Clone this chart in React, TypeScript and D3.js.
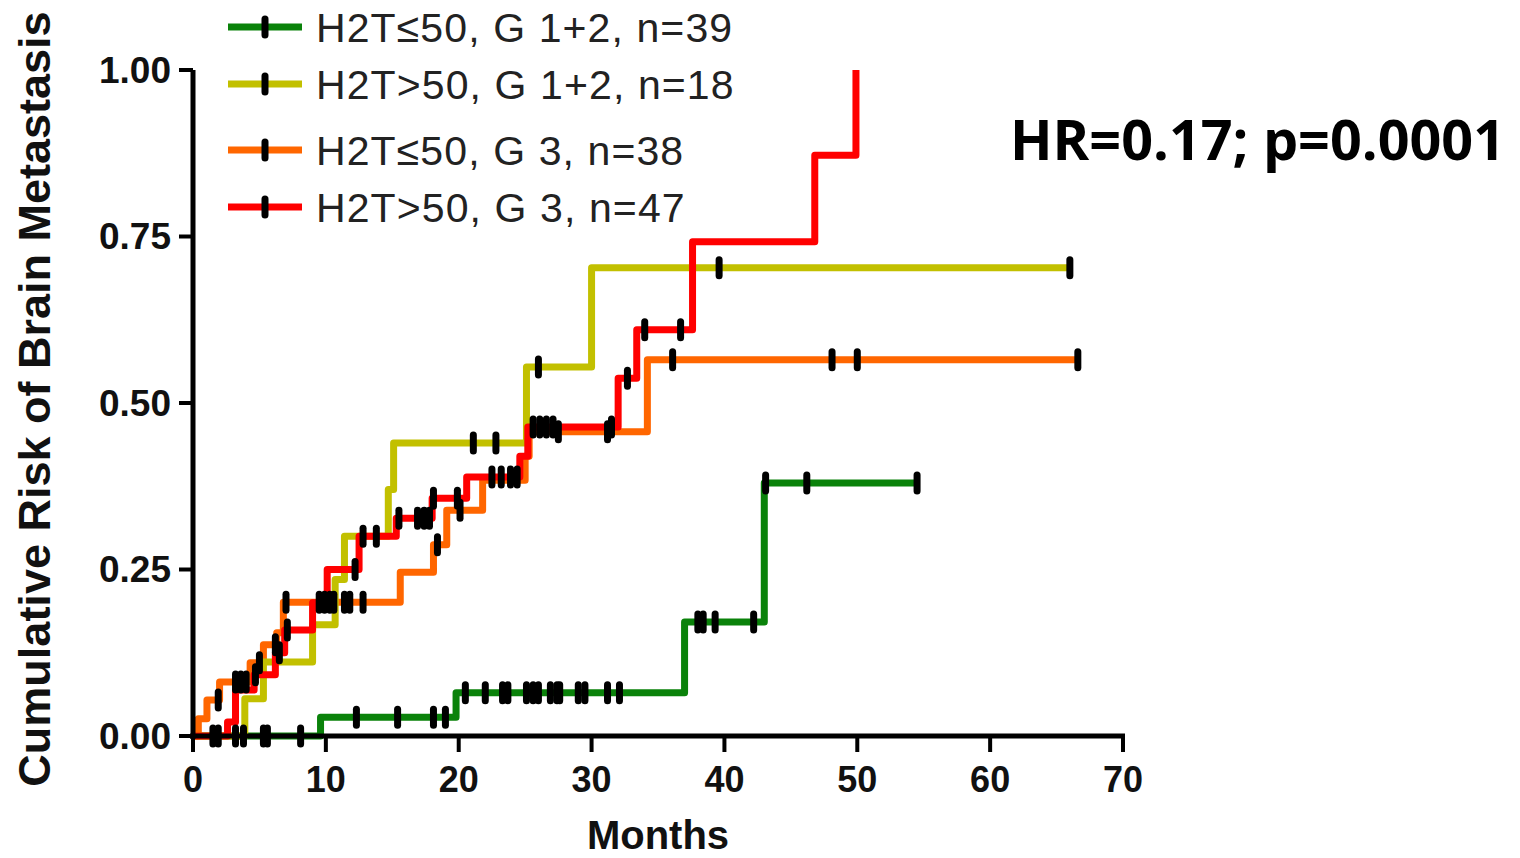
import React from "react";
import * as d3 from "d3";

const W = 1520;
const H = 858;

// Series: step change points [months, cumulative risk], end month, censor months
const greenSteps: [number, number][] = [[0, 0], [9.6, 0.028], [19.8, 0.065], [37.0, 0.171], [43.0, 0.38]];
const greenEnd = 54.5;
const greenCensors = [1.5, 1.9, 3.2, 3.8, 5.3, 5.6, 8.1, 12.3, 15.4, 18.1, 19.0, 20.5, 22.0, 23.3, 23.7, 25.1, 25.6, 26.0, 26.9, 27.4, 27.6, 29.0, 29.5, 31.2, 32.1, 38.0, 38.4, 39.3, 42.2, 43.1, 46.2, 54.5];

const yellowSteps: [number, number][] = [[0, 0], [3.9, 0.056], [5.3, 0.111], [9.0, 0.167], [10.7, 0.235], [11.4, 0.3], [14.7, 0.37], [15.1, 0.44], [25.1, 0.554], [30.0, 0.703]];
const yellowEnd = 66.0;
const yellowCensors = [13.8, 21.1, 22.8, 26.0, 39.6, 66.0];

const orangeSteps: [number, number][] = [[0, 0], [0.4, 0.026], [1.05, 0.054], [2.0, 0.081], [4.3, 0.11], [5.3, 0.137], [6.3, 0.155], [6.8, 0.201], [15.6, 0.246], [18.1, 0.287], [19.1, 0.339], [21.8, 0.384], [25.0, 0.42], [25.3, 0.457], [34.2, 0.565]];
const orangeEnd = 66.6;
const orangeCensors = [1.9, 3.2, 3.6, 4.0, 5.0, 6.2, 7.0, 9.5, 9.9, 10.3, 10.6, 11.4, 11.8, 12.8, 18.4, 20.1, 27.5, 31.2, 36.1, 48.1, 50.0, 66.6];

const redSteps: [number, number][] = [[0, 0], [2.6, 0.021], [3.2, 0.069], [4.6, 0.092], [6.2, 0.125], [6.9, 0.159], [9.0, 0.2], [10.1, 0.25], [12.5, 0.3], [15.3, 0.327], [18.0, 0.357], [20.6, 0.389], [24.6, 0.42], [25.2, 0.464], [32.0, 0.537], [33.4, 0.61], [37.6, 0.742], [46.8, 0.872], [49.9, 1.0]];
const redEnd = 49.9;
const redCensors = [4.7, 6.5, 7.1, 12.2, 12.8, 15.5, 16.9, 17.4, 17.8, 18.1, 19.9, 22.5, 23.2, 23.9, 24.4, 25.6, 26.1, 26.6, 27.1, 31.5, 32.7, 34.0, 36.7];

const legendLabels = ["H2T\u226450, G 1+2, n=39", "H2T>50, G 1+2, n=18", "H2T\u226450, G 3, n=38", "H2T>50, G 3, n=47"];
const colors = ["#0a820a", "#c2c000", "#ff6600", "#ff0000"];

const xTicks = [0, 10, 20, 30, 40, 50, 60, 70];
const yTicks = [0, 0.25, 0.5, 0.75, 1.0];

const series = [
  { steps: greenSteps, end: greenEnd, censors: greenCensors, color: colors[0] },
  { steps: orangeSteps, end: orangeEnd, censors: orangeCensors, color: colors[2] },
  { steps: yellowSteps, end: yellowEnd, censors: yellowCensors, color: colors[1] },
  { steps: redSteps, end: redEnd, censors: redCensors, color: colors[3] },
];

function valueAt(steps: [number, number][], t: number) {
  let v = 0;
  for (const [st, sv] of steps) if (st <= t) v = sv;
  return v;
}

export default function App() {
  const x = d3.scaleLinear().domain([0, 70]).range([193, 1123]);
  const y = d3.scaleLinear().domain([0, 1]).range([736, 70]);
  const line = d3
    .line<[number, number]>()
    .x((d) => x(d[0]))
    .y((d) => y(d[1]))
    .curve(d3.curveStepAfter);

  const legendY = [27, 84, 150, 207];
  const font = "Arial, 'Liberation Sans', sans-serif";

  return (
    <svg width={W} height={H} style={{ position: "absolute", left: 0, top: 0, background: "#fff" }}>
      {/* curves */}
      {series.map((s, i) => {
        const pts: [number, number][] = [...s.steps, [s.end, valueAt(s.steps, s.end)]];
        return (
          <path key={i} d={line(pts) || ""} fill="none" stroke={s.color} strokeWidth={7} strokeLinejoin="round" />
        );
      })}
      {/* censor marks */}
      {series.map((s, i) =>
        s.censors.map((t, j) => {
          const cx = x(t);
          const cy = y(valueAt(s.steps, t));
          return <line key={`${i}-${j}`} x1={cx} x2={cx} y1={cy - 8} y2={cy + 8} stroke="#000" strokeWidth={7} strokeLinecap="round" />;
        })
      )}
      {/* axes */}
      <line x1={x(0)} x2={x(0)} y1={y(1)} y2={y(0) + 3} stroke="#000" strokeWidth={5} />
      <line x1={x(0) - 3} x2={x(70) + 2} y1={y(0)} y2={y(0)} stroke="#000" strokeWidth={5} />
      {yTicks.map((v) => (
        <g key={v}>
          <line x1={x(0) - 14} x2={x(0)} y1={y(v)} y2={y(v)} stroke="#000" strokeWidth={4} />
          <text x={171} y={y(v)} dy="0.35em" textAnchor="end" fontFamily={font} fontWeight="bold" fontSize={37} fill="#111">
            {v.toFixed(2)}
          </text>
        </g>
      ))}
      {xTicks.map((t) => (
        <g key={t}>
          <line x1={x(t)} x2={x(t)} y1={y(0)} y2={y(0) + 16} stroke="#000" strokeWidth={4} />
          <text x={x(t)} y={792} textAnchor="middle" fontFamily={font} fontWeight="bold" fontSize={36} fill="#111">
            {t}
          </text>
        </g>
      ))}
      <text x={658} y={849} textAnchor="middle" fontFamily={font} fontWeight="bold" fontSize={40} fill="#111">
        Months
      </text>
      <text
        transform={`translate(50,${399}) rotate(-90)`}
        textAnchor="middle"
        fontFamily={font}
        fontWeight="bold"
        fontSize={45}
        fill="#111"
      >
        Cumulative Risk of Brain Metastasis
      </text>
      {/* legend */}
      {legendLabels.map((lab, i) => (
        <g key={lab}>
          <line x1={228} x2={302} y1={legendY[i]} y2={legendY[i]} stroke={colors[i]} strokeWidth={7} />
          <line x1={265} x2={265} y1={legendY[i] - 8} y2={legendY[i] + 8} stroke="#000" strokeWidth={7} strokeLinecap="round" />
          <text x={316} y={legendY[i]} dy="0.36em" fontFamily={font} fontSize={41} letterSpacing={1.1} fill="#222">
            {lab}
          </text>
        </g>
      ))}
      <text x={1010} y={160} textLength={495} lengthAdjust="spacingAndGlyphs" fontFamily="'Open Sans', sans-serif" fontWeight="bold" fontSize={55} fill="#000">
        HR=0.17; p=0.0001
      </text>
    </svg>
  );
}
